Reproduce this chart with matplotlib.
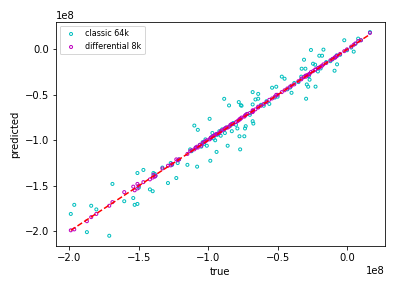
import numpy as np
import matplotlib
matplotlib.use("Agg")
import matplotlib.pyplot as plt

# values in units of 1e8
true_vals = [-1.99, -1.965, -1.874, -1.843, -1.806, -1.713, -1.69, -1.605, -1.54, -1.53,
             -1.51, -1.51, -1.50, -1.467, -1.42, -1.40, -1.395, -1.385, -1.38, -1.33,
             -1.29, -1.27, -1.26, -1.23, -1.22, -1.21, -1.15, -1.13, -1.12, -1.10,
             -1.09, -1.08, -1.075, -1.06, -1.05, -1.04, -1.03, -1.02, -1.01, -0.99,
             -0.985, -0.98, -0.97, -0.96, -0.95, -0.94, -0.935, -0.92, -0.91, -0.90,
             -0.885, -0.88, -0.87, -0.86, -0.85, -0.84, -0.83, -0.82, -0.80, -0.79,
             -0.78, -0.775, -0.77, -0.765, -0.76, -0.74, -0.735, -0.73, -0.72, -0.70,
             -0.68, -0.68, -0.675, -0.68, -0.66, -0.64, -0.64, -0.62, -0.60, -0.58,
             -0.56, -0.54, -0.52, -0.51, -0.50, -0.47, -0.45, -0.43, -0.41, -0.40,
             -0.38, -0.35, -0.33, -0.327, -0.31, -0.30, -0.295, -0.29, -0.28, -0.275,
             -0.27, -0.26, -0.245, -0.23, -0.227, -0.21, -0.20, -0.19, -0.18, -0.17,
             -0.15, -0.12, -0.105, -0.09, -0.085, -0.075, -0.072, -0.05, -0.02, 0.0,
             0.03, 0.048, 0.06, 0.08, 0.10, 0.165]

classic_pred = [-1.81, -1.71, -2.01, -1.72, -1.76, -2.05, -1.48, -1.67, -1.635, -1.71,
                -1.70, -1.36, -1.52, -1.326, -1.54, -1.56, -1.36, -1.37, -1.39, -1.30,
                -1.47, -1.25, -1.27, -1.415, -1.25, -1.21, -1.27, -1.10, -1.12, -0.838,
                -1.08, -1.29, -0.885, -1.05, -1.07, -1.02, -1.04, -0.99, -1.06, -0.764,
                -1.225, -0.97, -0.92, -0.98, -1.00, -1.128, -0.94, -0.90, -0.95, -0.88,
                -0.544, -0.92, -0.86, -1.06, -0.617, -0.84, -0.90, -0.81, -0.83, -0.87,
                -0.58, -0.956, -1.10, -0.614, -0.62, -0.956, -0.87, -0.845, -0.71, -0.72,
                -0.47, -0.79, -0.816, -0.606, -0.551, -0.49, -0.543, -0.61, -0.62, -0.57,
                -0.60, -0.422, -0.53, -0.411, -0.52, -0.30, -0.323, -0.44, -0.42, -0.478,
                -0.37, -0.36, -0.30, -0.213, -0.114, -0.213, -0.543, -0.386, -0.411, -0.294,
                -0.334, -0.007, -0.158, -0.169, -0.41, -0.243, -0.07, -0.21, -0.07, -0.003,
                -0.14, -0.13, -0.11, -0.235, -0.088, -0.066, -0.165, -0.06, 0.10, -0.01,
                0.02, -0.025, 0.06, 0.118, 0.10, 0.19]

diff_pred = [-1.99, -1.98, -1.89, -1.845, -1.81, -1.72, -1.68, -1.57, -1.51, -1.55,
             -1.53, -1.48, -1.50, -1.46, -1.43, -1.41, -1.38, -1.40, -1.39, -1.31,
             -1.28, -1.276, -1.26, -1.21, -1.22, -1.21, -1.15, -1.12, -1.11, -1.10,
             -1.08, -1.07, -1.08, -1.05, -1.06, -1.03, -1.02, -1.01, -1.00, -0.99,
             -0.98, -0.97, -0.96, -0.95, -0.94, -0.93, -0.93, -0.92, -0.90, -0.89,
             -0.88, -0.87, -0.86, -0.86, -0.85, -0.83, -0.82, -0.82, -0.80, -0.79,
             -0.78, -0.77, -0.765, -0.76, -0.75, -0.74, -0.73, -0.72, -0.71, -0.70,
             -0.68, -0.67, -0.675, -0.69, -0.66, -0.64, -0.63, -0.62, -0.60, -0.58,
             -0.555, -0.54, -0.52, -0.50, -0.50, -0.47, -0.45, -0.43, -0.41, -0.40,
             -0.385, -0.35, -0.33, -0.32, -0.305, -0.29, -0.30, -0.285, -0.28, -0.275,
             -0.27, -0.25, -0.24, -0.225, -0.22, -0.205, -0.20, -0.19, -0.18, -0.165,
             -0.15, -0.12, -0.105, -0.09, -0.09, -0.075, -0.07, -0.05, -0.02, 0.0,
             0.03, 0.05, 0.065, 0.09, 0.10, 0.18]

scale = 1e8
t = np.array(true_vals) * scale
c = np.array(classic_pred) * scale
d = np.array(diff_pred) * scale

fig, ax = plt.subplots(figsize=(5.5, 4), dpi=72)
fig.subplots_adjust(left=0.141, right=0.972, bottom=0.146, top=0.924)

ax.scatter(t, c, s=9, facecolors="none", edgecolors="c", linewidths=1, label="classic 64k")
ax.scatter(t, d, s=9, facecolors="none", edgecolors="m", linewidths=1, label="differential 8k")
ax.plot([t.min(), t.max()], [t.min(), t.max()], "r--", lw=1.5)

ax.set_xlabel("true")
ax.set_ylabel("predicted")
ax.legend(loc="upper left", fontsize=8, scatterpoints=1)

plt.savefig("out.png", dpi=72)
